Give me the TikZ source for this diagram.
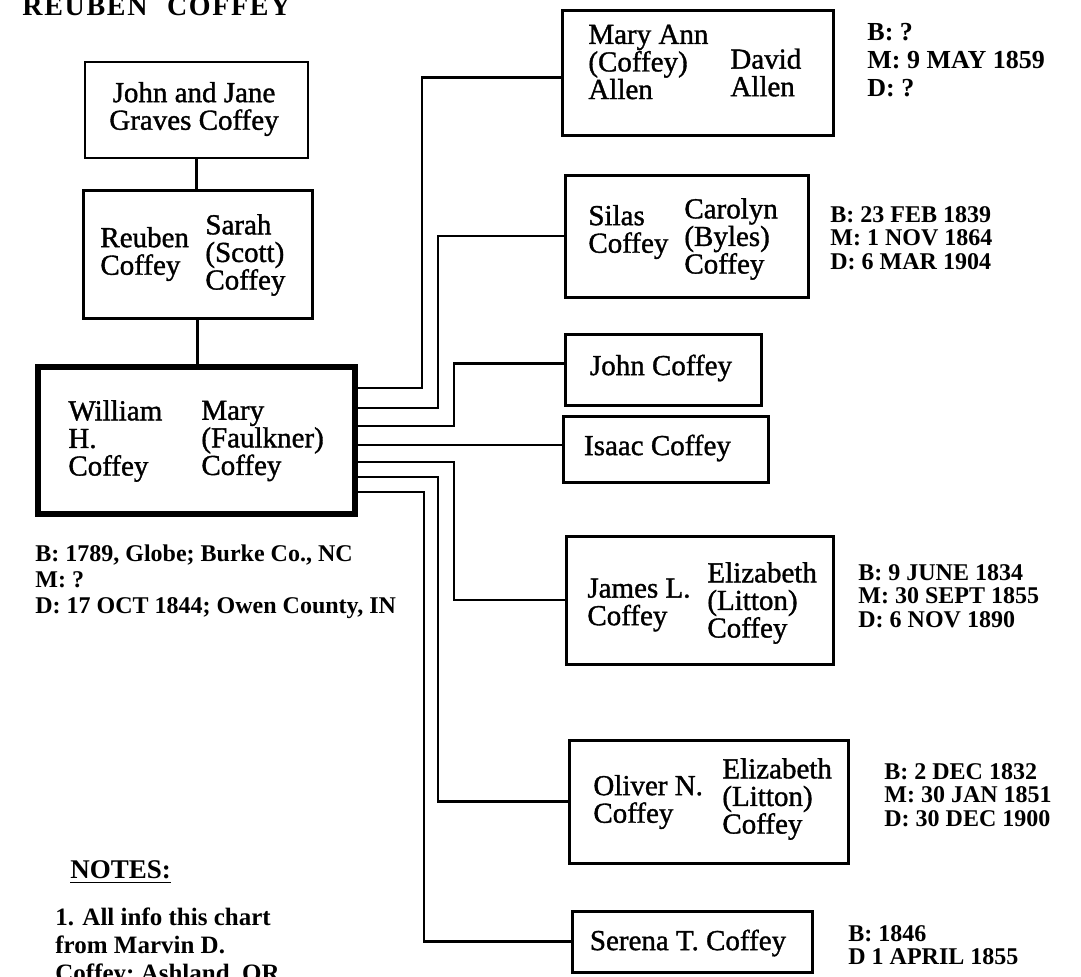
\documentclass[tikz,border=0pt]{standalone}
\usepackage{fontspec}
\setmainfont{Liberation Serif}
\newfontfamily\titlefont[LetterSpace=6]{Liberation Serif}
\newfontfamily\namefont[FakeBold=1.2]{Liberation Serif}
\usetikzlibrary{positioning,calc}

\tikzset{
  fambox/.style={draw,line width=1.5pt,inner sep=0pt},
  persontext/.style={font=\namefont\fontsize{14.5}{13.8}\selectfont,align=left,inner sep=0pt},
  datetext/.style={font=\fontsize{12}{11.8}\selectfont\bfseries,align=left,inner sep=0pt,anchor=west},
  link/.style={line width=1.4pt}
}

\begin{document}
\begin{tikzpicture}[x=0.5pt,y=-0.5pt]
        \useasboundingbox (0,0) rectangle (1081,976);
        \node[anchor=base west,inner sep=0pt,font={\titlefont\fontsize{14}{14}\selectfont\bfseries}] (title) at (22,15) {REUBEN\hspace{0.7em}COFFEY};

        %%% Ancestors
        \node[fambox,line width=1.1pt,minimum width=111.5pt,minimum height=48pt] (jj) at (196.5,110) {};
        \node[persontext,align=center] (jjText) at (194,109) {John and Jane\\Graves Coffey};

        \node[fambox,minimum width=114.5pt,minimum height=64pt] (reuben) at (197.5,254) {};
        \node[persontext,anchor=west] (reubenL) at (100,254) {Reuben\\Coffey};
        \node[persontext,anchor=west] (reubenR) at (205,255) {Sarah\\(Scott)\\Coffey};

        \node[fambox,line width=2.6pt,minimum width=158.5pt,minimum height=73.5pt] (william) at (196.5,440.5) {};
        \node[persontext,anchor=west] (williamL) at (68,441) {William\\H.\\Coffey};
        \node[persontext,anchor=west] (williamR) at (201,441) {Mary\\(Faulkner)\\Coffey};
        \node[datetext,font=\fontsize{12}{13}\selectfont\bfseries] (williamDates) at (35,582) {B: 1789, Globe; Burke Co., NC\\M: ?\\D: 17 OCT 1844; Owen County, IN};

        \draw[link] (jj.south) -- (jj.south |- reuben.north);
        \draw[link] (reuben.south) -- (reuben.south |- william.north);

        %%% Children
        \node[fambox,minimum width=135.5pt,minimum height=62.5pt] (maryann) at (697.5,72.5) {};
        \node[persontext,anchor=west] (maryannL) at (588,62) {Mary Ann\\(Coffey)\\Allen};
        \node[persontext,anchor=west] (maryannR) at (730,72.5) {David\\Allen};
        \node[datetext,font=\fontsize{13}{14}\selectfont\bfseries] (maryannDates) at (867,60) {B: ?\\M: 9 MAY 1859\\D: ?};

        \node[fambox,minimum width=121.5pt,minimum height=61pt] (silas) at (686.5,236) {};
        \node[persontext,anchor=west] (silasL) at (588,232) {Silas\\Coffey};
        \node[persontext,anchor=west] (silasR) at (684,239) {Carolyn\\(Byles)\\Coffey};
        \node[datetext] (silasDates) at (830,238) {B: 23 FEB 1839\\M: 1 NOV 1864\\D: 6 MAR 1904};

        \node[fambox,minimum width=98pt,minimum height=35.5pt] (john) at (663,369.5) {};
        \node[persontext] (johnText) at (661,368) {John Coffey};

        \node[fambox,minimum width=102.5pt,minimum height=33pt] (isaac) at (665.5,449) {};
        \node[persontext] (isaacText) at (657.5,448) {Isaac Coffey};

        \node[fambox,minimum width=133.5pt,minimum height=64pt] (james) at (699.5,600) {};
        \node[persontext,anchor=west] (jamesL) at (587,605) {James L.\\Coffey};
        \node[persontext,anchor=west] (jamesR) at (707,603) {Elizabeth\\(Litton)\\Coffey};
        \node[datetext] (jamesDates) at (858,596) {B: 9 JUNE 1834\\M: 30 SEPT 1855\\D: 6 NOV 1890};

        \node[fambox,minimum width=139.5pt,minimum height=61.5pt] (oliver) at (708.5,801.5) {};
        \node[persontext,anchor=west] (oliverL) at (593,802) {Oliver N.\\Coffey};
        \node[persontext,anchor=west] (oliverR) at (722,799) {Elizabeth\\(Litton)\\Coffey};
        \node[datetext] (oliverDates) at (884,795) {B: 2 DEC 1832\\M: 30 JAN 1851\\D: 30 DEC 1900};

        \node[fambox,minimum width=120pt,minimum height=30.5pt] (serena) at (692,941.5) {};
        \node[persontext] (serenaText) at (688,943) {Serena T. Coffey};
        \node[datetext] (serenaDates) at (848,945) {B: 1846\\D 1 APRIL 1855};

        \draw[link] (william.east |- 0,388) -- (422,388) |- ([yshift=-2.5pt]maryann.west);
        \draw[link] (william.east |- 0,408) -- (438,408) |- (silas.west);
        \draw[link] (william.east |- 0,426) -- (454,426) |- ([yshift=3pt]john.west);
        \draw[link] (william.east |- 0,445) -- (isaac.west |- 0,445);
        \draw[link] (william.east |- 0,462) -- (454,462) |- (james.west);
        \draw[link] (william.east |- 0,477) -- (438,477) |- (oliver.west);
        \draw[link] (william.east |- 0,492) -- (424,492) |- (serena.west);

        %%% Notes
        \node[anchor=west,inner sep=0pt,font=\fontsize{13.5}{14}\selectfont\bfseries] (notes) at (70,872) {\underline{NOTES:}};
        \node[anchor=west,align=left,inner sep=0pt,font=\fontsize{12.5}{14}\selectfont\bfseries] (notesText) at (55,947) {1. All info this chart\\from Marvin D.\\Coffey; Ashland, OR};
\end{tikzpicture}
\end{document}
